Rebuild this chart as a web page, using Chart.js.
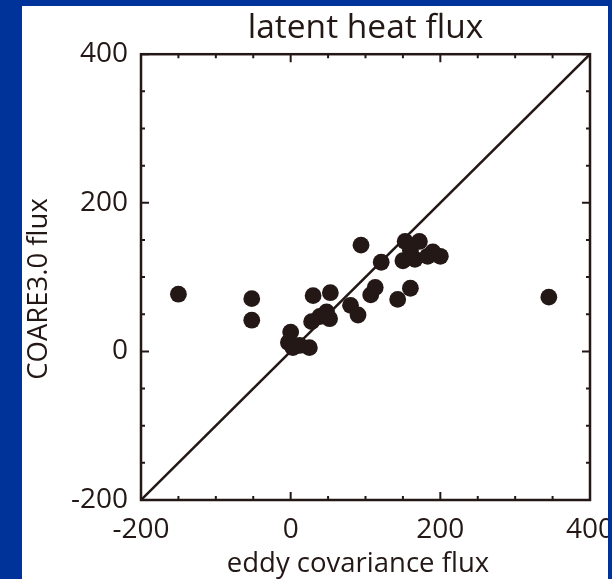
<!DOCTYPE html>
<html><head><meta charset="utf-8">
<script src="https://cdn.jsdelivr.net/npm/chart.js@4"></script>
<style>
html,body{margin:0;padding:0;background:#00339a;width:612px;height:579px;overflow:hidden}
#panel{position:absolute;left:22px;top:6px;width:586px;height:573px;background:#fff}
canvas{display:block}
</style></head><body>
<div id="panel"><canvas id="c" width="586" height="573"></canvas></div>
<script>
const titleText = "latent heat flux";
const xTitle = "eddy covariance flux";
const yTitle = "COARE3.0 flux";
const axisMin = -200, axisMax = 400;
const majorStep = 200, minorStep = 50;
const eddyFlux  = [-150, -52, -52, 345, 30, 53, 94, 121, 80, 90, 107, 113, 48, 39, 28, 0, -3, 3, 12, 25, 52, 153, 172, 150, 166, 183, 200, 190, 160, 143, 160];
const coareFlux = [  77,  71,  42,  73, 75, 79, 143, 120, 62, 49, 76, 86, 53, 47, 40, 26, 12, 5, 8, 5, 44, 148, 148, 122, 124, 128, 128, 134, 136, 70, 85];
const oneToOneX = [-200, 400];
const oneToOneY = [-200, 400];

const ink = '#231815';
const fontFamily = '"Open Sans", "Noto Sans", sans-serif';

const frame = {
  id: 'frame',
  afterDatasetsDraw(chart) {
    const {ctx, chartArea: a, scales: {x, y}} = chart;
    ctx.save();
    ctx.strokeStyle = ink;
    ctx.lineWidth = 2.5;
    ctx.strokeRect(a.left, a.top, a.right - a.left, a.bottom - a.top);
    ctx.lineWidth = 2;
    ctx.beginPath();
    for (let v = axisMin; v <= axisMax; v += minorStep) {
      const len = (v % majorStep === 0) ? 8 : 4;
      const px = x.getPixelForValue(v), py = y.getPixelForValue(v);
      ctx.moveTo(px, a.bottom); ctx.lineTo(px, a.bottom - len);
      ctx.moveTo(px, a.top); ctx.lineTo(px, a.top + len);
      ctx.moveTo(a.left, py); ctx.lineTo(a.left + len, py);
      ctx.moveTo(a.right, py); ctx.lineTo(a.right - len, py);
    }
    ctx.stroke();
    // axis titles
    ctx.fillStyle = ink;
    ctx.font = '27.5px ' + fontFamily;
    ctx.textAlign = 'center';
    ctx.textBaseline = 'alphabetic';
    ctx.fillText(xTitle, 336, 566);
    ctx.translate(25, 283);
    ctx.rotate(-Math.PI / 2);
    ctx.fillText(yTitle, 0, 0);
    ctx.restore();
  }
};

new Chart(document.getElementById('c'), {
  data: {
    datasets: [
      {
        type: 'scatter',
        data: eddyFlux.map((v, i) => ({x: v, y: coareFlux[i]})),
        backgroundColor: ink,
        borderColor: ink,
        borderWidth: 0,
        pointRadius: 8.4,
        pointHoverRadius: 8.4
      },
      {
        type: 'line',
        data: oneToOneX.map((v, i) => ({x: v, y: oneToOneY[i]})),
        borderColor: ink,
        borderWidth: 2.5,
        pointRadius: 0,
        fill: false
      }
    ]
  },
  options: {
    responsive: false,
    animation: false,
    events: [],
    layout: {padding: {top: 0, right: 18, bottom: 0, left: 0}},
    plugins: {
      legend: {display: false},
      tooltip: {enabled: false},
      title: {
        display: true, text: titleText, color: ink, fullSize: false,
        font: {family: fontFamily, size: 33.5, weight: 'normal', lineHeight: 1.2},
        padding: {top: 2, bottom: 6}
      }
    },
    scales: {
      x: {
        type: 'linear', position: 'bottom', min: axisMin, max: axisMax,
        grid: {display: false, drawTicks: false}, border: {display: false},
        ticks: {stepSize: majorStep, color: ink, padding: 13,
                font: {family: fontFamily, size: 28}, maxRotation: 0},
        title: {display: false},
        afterFit(s) { s.height = 79; s.paddingLeft = 0; s.paddingRight = 0; }
      },
      y: {
        type: 'linear', position: 'left', min: axisMin, max: axisMax,
        grid: {display: false, drawTicks: false}, border: {display: false},
        ticks: {stepSize: majorStep, color: ink, padding: 13,
                font: {family: fontFamily, size: 28}},
        title: {display: false},
        afterFit(s) { s.width = 119; s.paddingTop = 0; s.paddingBottom = 0; }
      }
    }
  },
  plugins: [frame]
});
</script>
</body></html>
